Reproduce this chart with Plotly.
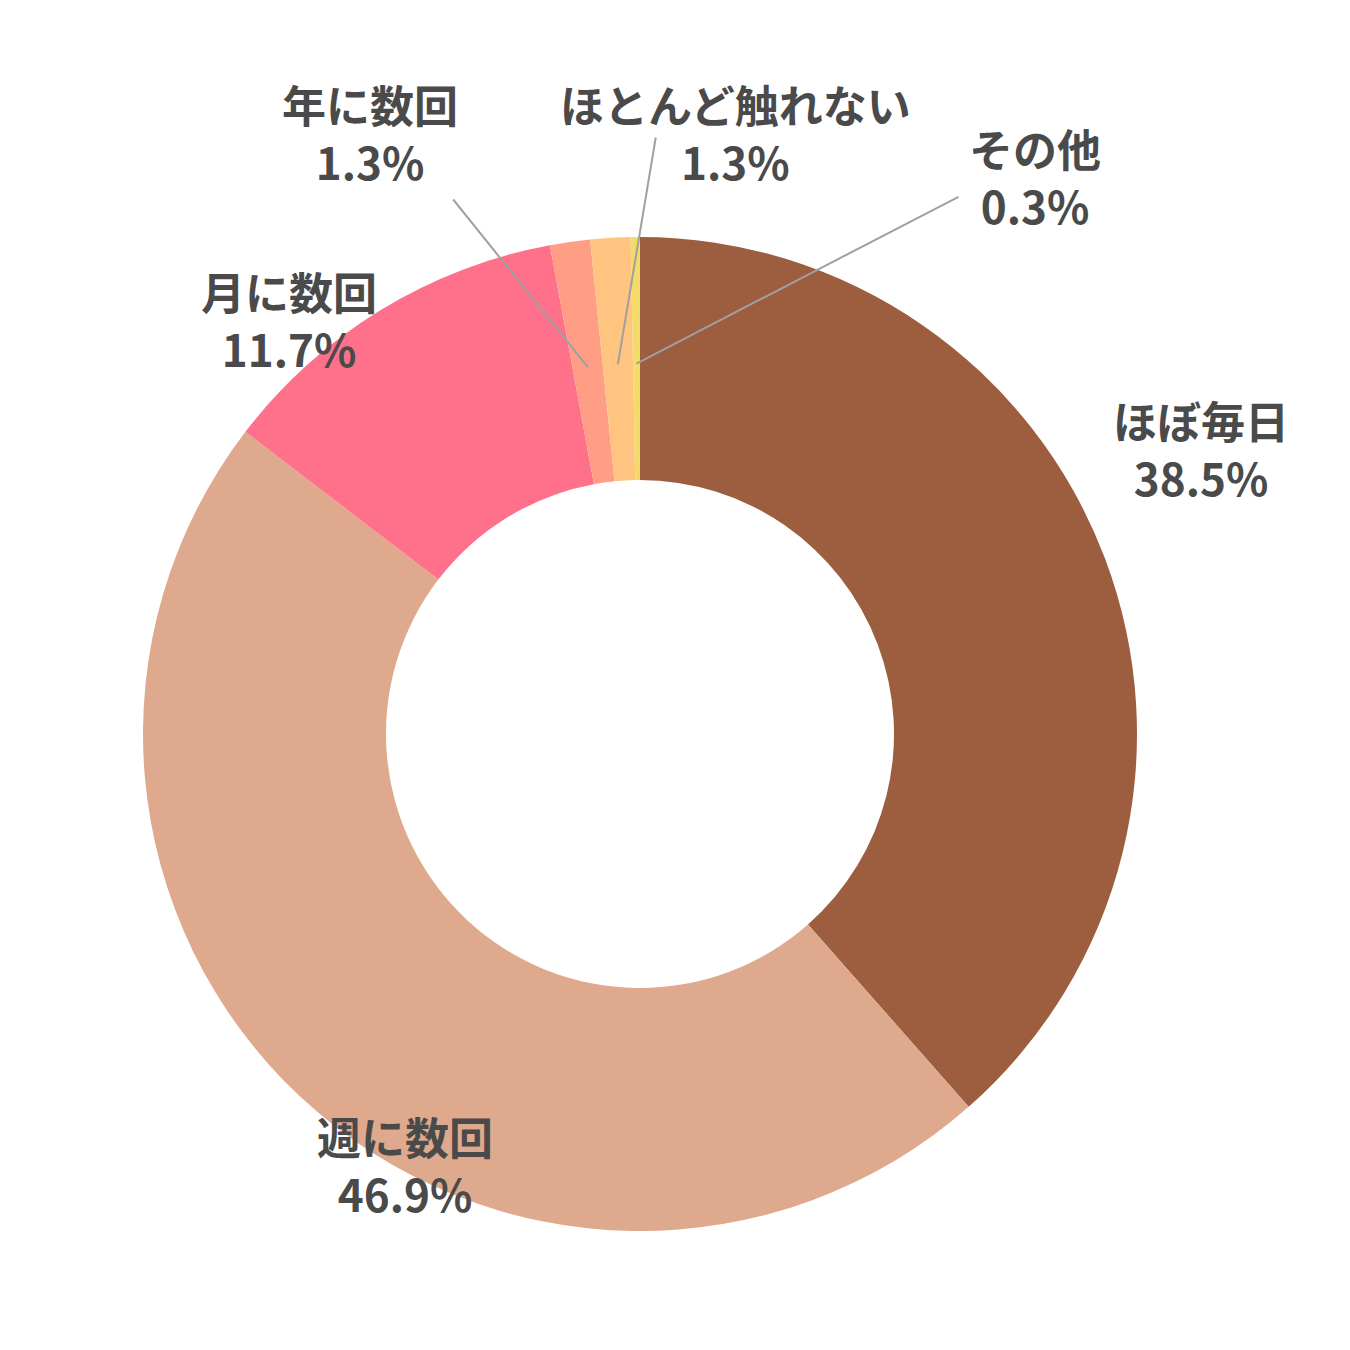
import math
import plotly.graph_objects as go

labels = ["ほぼ毎日", "週に数回", "月に数回", "年に数回", "ほとんど触れない", "その他"]
values = [38.5, 46.9, 11.7, 1.3, 1.3, 0.3]
colors = ["#9C5E3F", "#DFA98E", "#FF718B", "#FF9E85", "#FFC47F", "#F2DA6B"]

W = 1350
cx, cy, R_out, R_in = 632, 726, 497, 254

fig = go.Figure(go.Pie(
    labels=labels, values=values, sort=False, direction="clockwise", rotation=0,
    hole=R_in / R_out, marker=dict(colors=colors, line=dict(width=0)),
    textinfo="none", hoverinfo="label+percent", showlegend=False,
    domain=dict(x=[(cx - R_out) / W, (cx + R_out) / W],
                y=[1 - (cy + R_out) / W, 1 - (cy - R_out) / W]),
))

# label text positions (px) and leader-line start (px) or None
label_pos = [(1193, 440, None), (397, 1156, None), (281, 312, None),
             (362, 125, (444, 190)), (728, 125, (648, 128)), (1027, 168, (952, 188))]

font = dict(family="Noto Sans CJK JP", size=44, color="#4A4A4A")
annotations = []
cum = 0.0
total = sum(values)
for lab, v, (lx, ly, ls) in zip(labels, values, label_pos):
    mid = (cum + v / 2) / total * 2 * math.pi
    cum += v
    annotations.append(dict(x=lx / W, y=1 - ly / W, xref="paper", yref="paper",
                            xanchor="center", yanchor="middle",
                            text=f"<b>{lab}</b><br><b>{v}%</b>", showarrow=False,
                            font=font, align="center"))
    if ls:
        r = (R_in + R_out) / 2 - 5
        px = cx + r * math.sin(mid)
        py = cy - r * math.cos(mid)
        annotations.append(dict(x=px / W, y=1 - py / W, xref="paper", yref="paper",
                                text="", showarrow=True, arrowhead=0, arrowwidth=2,
                                arrowcolor="#A0A0A0", ax=ls[0] - px, ay=ls[1] - py,
                                standoff=0, startstandoff=0))

fig.update_layout(width=W, height=W, margin=dict(l=0, r=0, t=0, b=0),
                  paper_bgcolor="white", plot_bgcolor="white",
                  annotations=annotations)
fig.write_html("out.html")
